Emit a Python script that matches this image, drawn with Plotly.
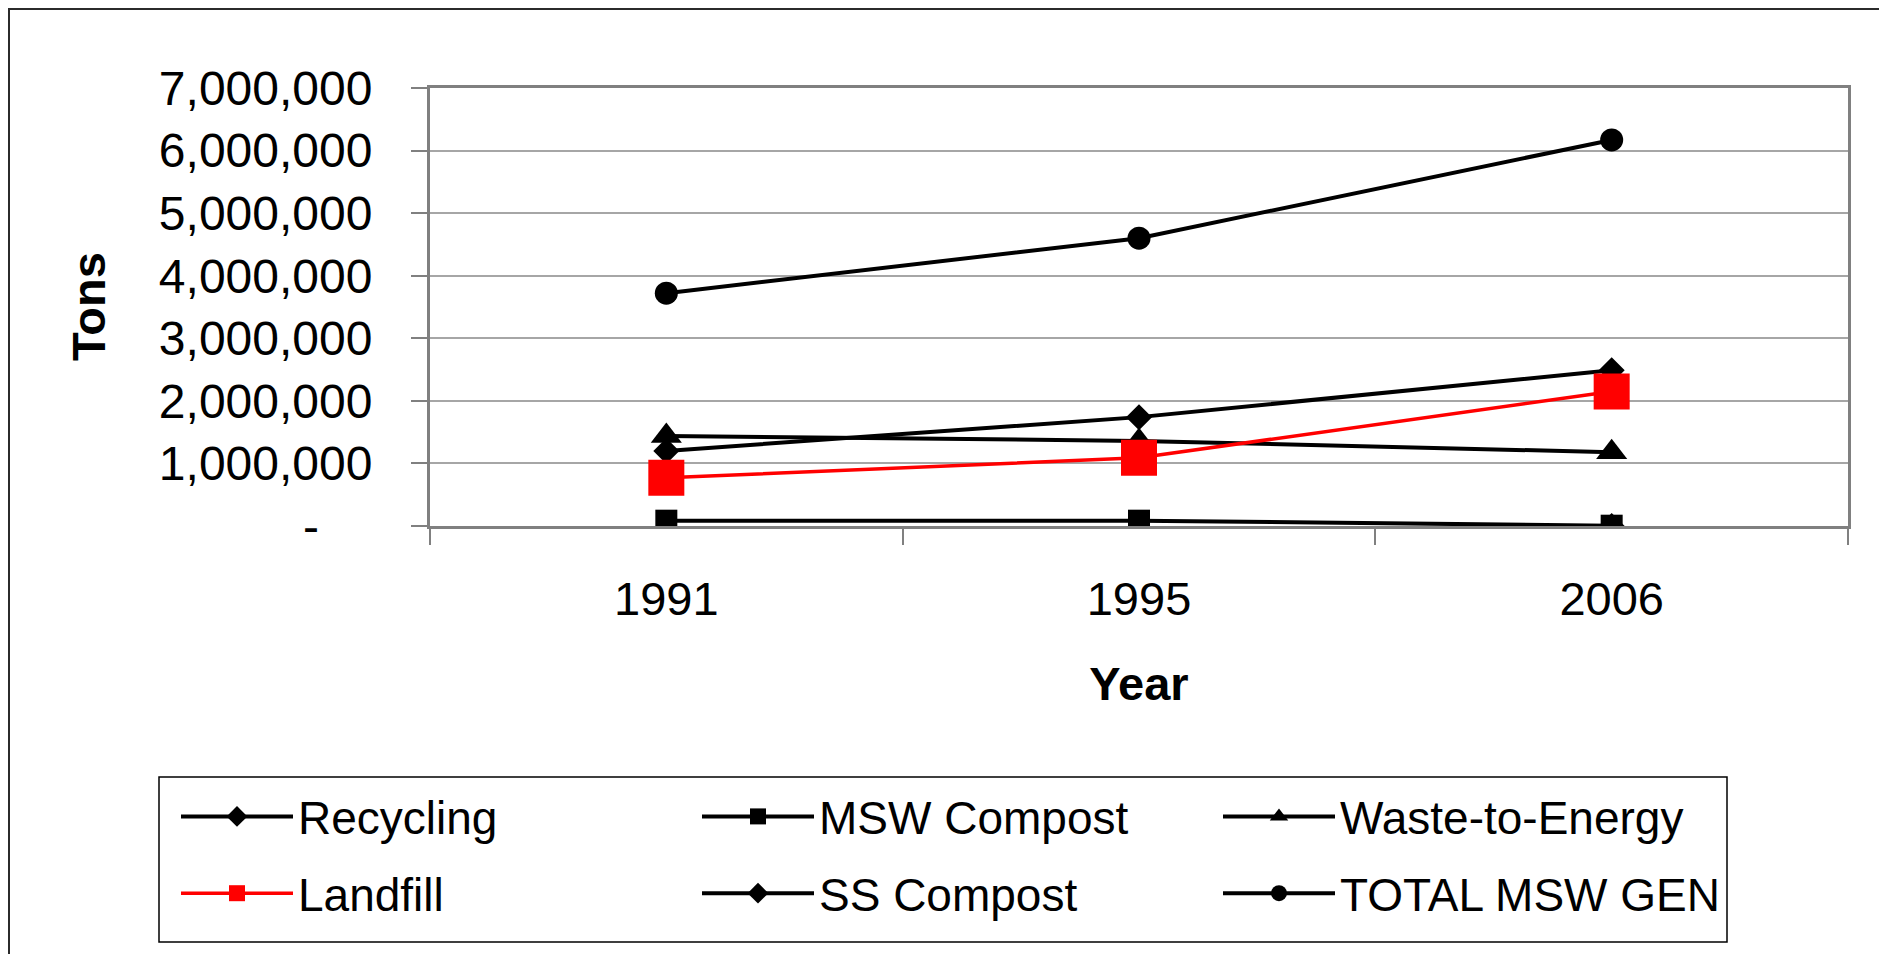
import plotly.graph_objects as go

years = ["1991", "1995", "2006"]
recycling = [1200000, 1740000, 2490000]
msw_compost = [85000, 85000, 5000]
waste_to_energy = [1440000, 1360000, 1180000]
landfill = [770000, 1090000, 2150000]
ss_compost = [None, None, 0]
total_msw_gen = [3720000, 4600000, 6170000]

y_tick_vals = [0, 1000000, 2000000, 3000000, 4000000, 5000000, 6000000, 7000000]
y_tick_text = ["-\u00a0\u00a0\u00a0\u00a0", "1,000,000", "2,000,000", "3,000,000",
               "4,000,000", "5,000,000", "6,000,000", "7,000,000"]

FONT = "Arial, 'Liberation Sans', sans-serif"
# page body has an 8px margin: figure coordinates = picture coordinates - 8
W, H = 1879, 946
L, R, T, B = 422, 39, 80, 428
PW, PH = W - L - R, H - T - B


def px_x(p):
    return (p - L) / PW


def px_y(p):
    return (T + PH - p) / PH


series = [
    ("Recycling", recycling, "black", "diamond", 20, 4, "legend"),
    ("MSW Compost", msw_compost, "black", "square", 22, 4, "legend2"),
    ("Waste-to-Energy", waste_to_energy, "black", "triangle-up", 27, 4, "legend3"),
    ("Landfill", landfill, "#FF0000", "square", 36, 3.5, "legend"),
    ("SS Compost", ss_compost, "black", "diamond", 20, 4, "legend2"),
    ("TOTAL MSW GEN", total_msw_gen, "black", "circle", 23, 4, "legend3"),
]

fig = go.Figure()
for name, vals, color, sym, size, lw, lg in series:
    fig.add_trace(go.Scatter(
        x=years, y=vals, name=name, mode="lines+markers",
        line=dict(color=color, width=lw),
        marker=dict(symbol=sym, size=size, color=color),
        connectgaps=False, legend=lg, legendgroup=name,
    ))

# outer chart frame
fig.add_shape(type="rect", xref="paper", yref="paper",
              x0=px_x(1), x1=px_x(1875), y0=px_y(1200), y1=px_y(1),
              line=dict(color="#2b2b2b", width=2), fillcolor="white", layer="below")
# legend box
fig.add_shape(type="rect", xref="paper", yref="paper",
              x0=px_x(151), x1=px_x(1719), y0=px_y(934), y1=px_y(769),
              line=dict(color="black", width=1.5), fillcolor="white", layer="below")

# y axis title
fig.add_annotation(text="<b>Tons</b>", xref="paper", yref="paper",
                   x=px_x(80), y=0.5, xanchor="center", yanchor="middle",
                   textangle=-90, showarrow=False,
                   font=dict(family=FONT, size=47, color="black"))

legend_common = dict(
    orientation="v", xref="container", yref="container",
    xanchor="left", yanchor="top", y=1 - 772 / H,
    bgcolor="rgba(0,0,0,0)", borderwidth=0,
    font=dict(family=FONT, size=46, color="black"),
    itemwidth=112, tracegroupgap=14,
)

fig.update_layout(
    width=W, height=H,
    margin=dict(l=L, r=R, t=T, b=B, autoexpand=False),
    paper_bgcolor="#ECE9D8",
    plot_bgcolor="white",
    font=dict(family=FONT, size=48, color="black"),
    showlegend=True,
    legend=dict(legend_common, x=168 / W),
    legend2=dict(legend_common, x=689 / W),
    legend3=dict(legend_common, x=1210 / W),
    xaxis=dict(
        type="category", range=[-0.5, 2.5], tickson="boundaries",
        ticks="outside", ticklen=16, tickwidth=1.5, tickcolor="#808080",
        showgrid=False, showline=True, linecolor="#808080", linewidth=3, mirror=True,
        ticklabelstandoff=30,
        title=dict(text="<b>Year</b>", standoff=43, font=dict(size=47)),
        tickfont=dict(size=47),
    ),
    yaxis=dict(
        range=[0, 7000000], tickvals=y_tick_vals, ticktext=y_tick_text,
        ticks="outside", ticklen=16, tickwidth=1.5, tickcolor="#808080",
        showgrid=True, gridcolor="#A6A6A6", gridwidth=1.5,
        showline=True, linecolor="#808080", linewidth=3, mirror=True,
        zeroline=False,
        ticklabelstandoff=29,
        tickfont=dict(size=48),
    ),
)

fig.write_html("out.html")
